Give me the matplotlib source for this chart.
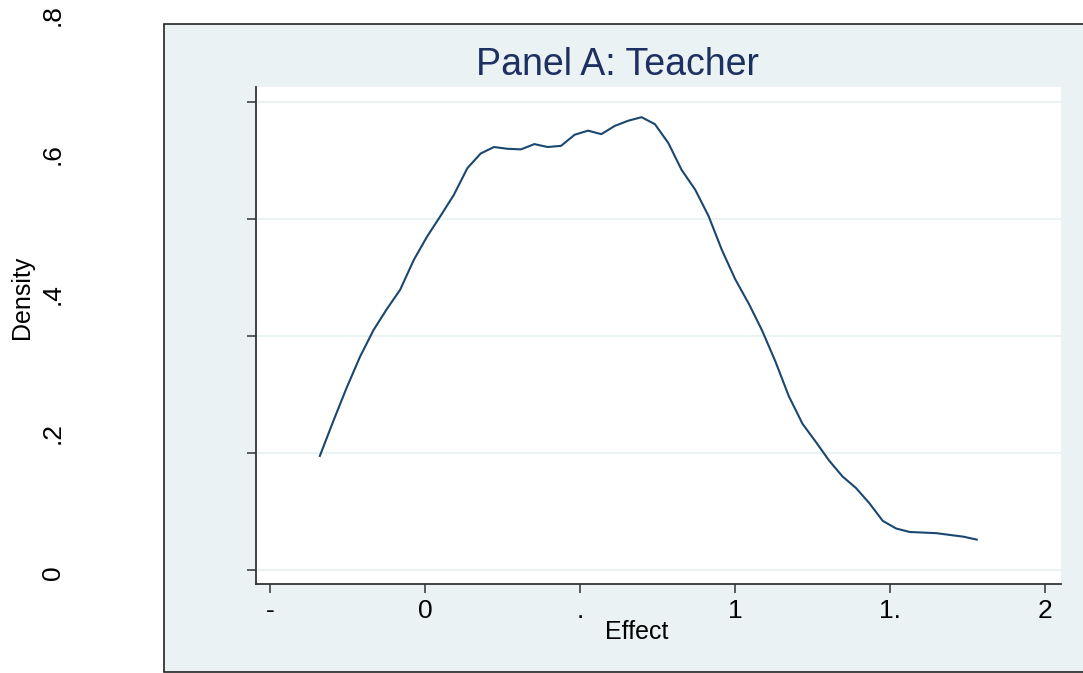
import numpy as np
import matplotlib.pyplot as plt
from matplotlib.patches import Rectangle

plt.rcParams['font.family'] = ['Liberation Sans', 'DejaVu Sans']

# kernel density of the teacher effect
effect_x = [-0.339, -0.296, -0.253, -0.209, -0.166, -0.123, -0.080, -0.036, 0.007, 0.050,
            0.093, 0.137, 0.180, 0.223, 0.266, 0.310, 0.353, 0.396, 0.439, 0.483,
            0.526, 0.569, 0.612, 0.656, 0.699, 0.742, 0.785, 0.828, 0.872, 0.915,
            0.958, 1.001, 1.045, 1.088, 1.131, 1.174, 1.218, 1.261, 1.304, 1.347,
            1.391, 1.434, 1.477, 1.520, 1.564, 1.607, 1.650, 1.693, 1.737, 1.780]
density_y = [0.195, 0.254, 0.311, 0.365, 0.410, 0.446, 0.479, 0.530, 0.570, 0.605,
             0.641, 0.687, 0.712, 0.723, 0.720, 0.719, 0.728, 0.723, 0.725, 0.744,
             0.751, 0.745, 0.759, 0.768, 0.774, 0.762, 0.730, 0.684, 0.650, 0.605,
             0.547, 0.497, 0.455, 0.409, 0.356, 0.297, 0.250, 0.219, 0.187, 0.160,
             0.140, 0.114, 0.084, 0.071, 0.065, 0.064, 0.063, 0.060, 0.057, 0.052]

x_ticks = [-0.5, 0, 0.5, 1, 1.5, 2]
x_labels = ['-', '0', '.', '1', '1.', '2']
y_ticks = [0, 0.2, 0.4, 0.6, 0.8]
y_labels = ['0', '.2', '.4', '.6', '.8']

W, H = 1083, 673
fig = plt.figure(figsize=(W / 100, H / 100), dpi=100)
fig.patch.set_facecolor('white')

# light bluish-gray graph region with dark border
bg = Rectangle((164 / W, 1 / H), 1.0, 648 / H, transform=fig.transFigure,
               facecolor='#eaf2f3', edgecolor='#222222', linewidth=1.2, zorder=-1)
fig.patches.append(bg)

ax = fig.add_axes([256 / W, (H - 584) / H, 805 / W, 497 / H])
ax.set_facecolor('white')
ax.plot(effect_x, density_y, color='#1a476f', linewidth=1.5)
ax.set_xlim(-0.545, 2.052)
ax.set_ylim(-0.0239, 0.8256)

ax.set_yticks(y_ticks)
ax.set_yticklabels([])
ax.grid(axis='y', color='#eaf2f3', linewidth=1.5)
ax.set_axisbelow(True)
ax.set_xticks(x_ticks)
ax.set_xticklabels(x_labels, fontsize=19)
ax.tick_params(length=6.5, width=1.1, color='#333333', pad=4)
for s in ['top', 'right']:
    ax.spines[s].set_visible(False)
for s in ['left', 'bottom']:
    ax.spines[s].set_color('#333333')
    ax.spines[s].set_linewidth(1.3)

# y tick labels that sit outside the graph region
lab = fig.add_axes([65 / W, (H - 573) / H, 0.001, 558 / H])
lab.set_ylim(0, 0.8)
lab.set_yticks(y_ticks)
lab.set_yticklabels(y_labels, rotation=90, va='center', fontsize=19)
lab.tick_params(length=0, pad=0)
lab.set_xticks([])
lab.patch.set_visible(False)
for s in lab.spines.values():
    s.set_visible(False)

fig.text(22 / W, 1 - 297 / H, 'Density', rotation=90, ha='center', va='center', fontsize=18)
fig.text(637 / W, 1 - 632 / H, 'Effect', ha='center', va='center', fontsize=18)
fig.text(617 / W, 1 - 65 / H, 'Panel A: Teacher', ha='center', va='center',
         fontsize=27, color='#1e3062')

fig.savefig('out.png', dpi=100)
